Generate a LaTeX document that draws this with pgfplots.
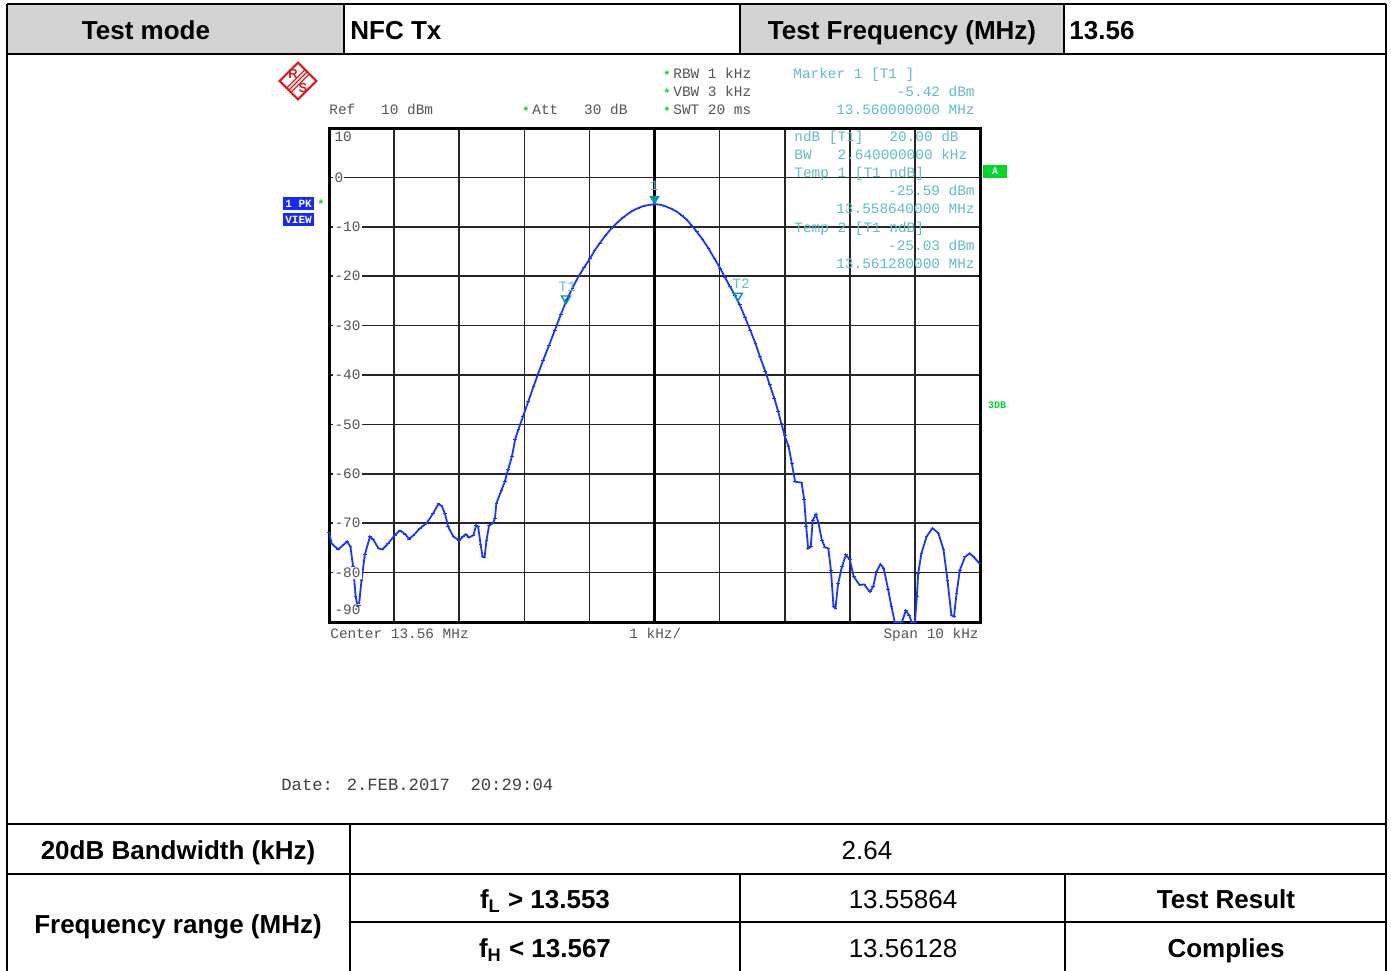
\documentclass[border=0pt]{standalone}
\usepackage{pgfplots}
\pgfplotsset{compat=1.18}
\usepackage{fontspec}
\setmainfont{Liberation Sans}
\newfontfamily\mono{Liberation Mono}
\definecolor{cellgray}{RGB}{211,211,211}
\definecolor{trace}{RGB}{25,55,255}
\definecolor{mk}{RGB}{0,150,160}
\definecolor{mktext}{RGB}{95,190,200}
\definecolor{rsgray}{RGB}{85,85,85}
\definecolor{rsgreen}{RGB}{0,215,40}
\definecolor{rsblue}{RGB}{20,40,255}
\definecolor{rsred}{RGB}{215,30,30}
\newcommand{\tb}{\fontsize{13}{15}\selectfont\bfseries}
\newcommand{\tn}{\fontsize{13}{15}\selectfont}
\newcommand{\rs}{\mono\fontsize{7.2}{8}\selectfont}
\tikzset{lbl/.style={anchor=west, xshift=2pt, fill=white, inner sep=0.6pt, font=\rs, text=rsgray}}
\begin{document}
\begin{tikzpicture}
\useasboundingbox (0,0) rectangle (695.5pt,-485pt);
\fill[white] (0,0) rectangle (695.5pt,-485pt);
\begin{scope}[x=0.5pt,y=-0.5pt]
% table backgrounds
\fill[cellgray] (7,4) rectangle (344,54);
\fill[cellgray] (740,4) rectangle (1064,54);
% table lines
\begin{scope}[line width=1.2pt, black]
\draw (7,4) -- (1386,4);
\draw (7,54) -- (1386,54);
\draw (7,4) -- (7,975);
\draw (1386,4) -- (1386,975);
\draw (344,4) -- (344,54);
\draw (740,4) -- (740,54);
\draw (1064,4) -- (1064,54);
\draw (7,824) -- (1386,824);
\draw (7,874) -- (1386,874);
\draw (350,922) -- (1386,922);
\draw (350,824) -- (350,975);
\draw (740,874) -- (740,975);
\draw (1065,874) -- (1065,975);
\end{scope}
% table text (baseline = centre + 9px)
\begin{scope}[every node/.style={inner sep=0}]
\node[font=\tb, anchor=base] at (146,39) {Test mode};
\node[font=\tb, anchor=base west] at (350,39) {NFC Tx};
\node[font=\tb, anchor=base] at (902,39) {Test Frequency (MHz)};
\node[font=\tb, anchor=base west] at (1069,39) {13.56};
\node[font=\tb, anchor=base] at (178,859) {20dB Bandwidth (kHz)};
\node[font=\tn, anchor=base] at (867,859) {2.64};
\node[font=\tb, anchor=base] at (178,933) {Frequency range (MHz)};
\node[font=\tb, anchor=base] at (545,908) {f\textsubscript{L} > 13.553};
\node[font=\tn, anchor=base] at (903,908) {13.55864};
\node[font=\tb, anchor=base] at (1226,908) {Test Result};
\node[font=\tb, anchor=base] at (545,957) {f\textsubscript{H} < 13.567};
\node[font=\tn, anchor=base] at (903,957) {13.56128};
\node[font=\tb, anchor=base] at (1226,957) {Complies};
\end{scope}
\end{scope}

\begin{axis}[
  at={(164.5pt,-311pt)}, anchor=south west,
  width=325.5pt, height=247pt, scale only axis,
  xmin=-5, xmax=5, ymin=-90, ymax=10,
  xtick={-4,-3,-2,-1,1,2,3,4}, ytick={-80,-70,-60,-50,-40,-30,-20,-10,0},
  xticklabel=\empty, yticklabel=\empty,
  tick style={draw=none}, major tick length=0pt,
  grid=major, major grid style={black!85, line width=0.8pt},
  extra x ticks={0}, extra x tick labels={},
  extra x tick style={grid=major, major grid style={black, line width=1.6pt}},
  axis line style={line width=1.5pt, black},
]
\addplot[trace, line width=0.9pt, mark=-, mark size=0.9pt, mark options={line width=0.5pt}] coordinates {
(-5.00,-71.9) (-4.96,-74.1) (-4.86,-75.3) (-4.78,-74.4) (-4.72,-73.7) (-4.67,-74.8)
(-4.63,-78.8) (-4.59,-84.9) (-4.56,-86.8) (-4.54,-86.6) (-4.50,-81.5) (-4.45,-76.4)
(-4.37,-72.7) (-4.32,-73.3) (-4.24,-75.1) (-4.18,-75.3) (-4.09,-74.1) (-3.99,-72.4)
(-3.91,-71.5) (-3.83,-72.2) (-3.77,-73.2) (-3.70,-72.4) (-3.60,-71.0) (-3.50,-70.0)
(-3.40,-68.0) (-3.32,-66.1) (-3.27,-66.5) (-3.22,-68.0) (-3.17,-70.7) (-3.09,-72.7)
(-3.00,-73.5) (-2.94,-72.7) (-2.90,-72.2) (-2.85,-72.9) (-2.78,-72.4) (-2.74,-70.4)
(-2.71,-70.7) (-2.67,-74.4) (-2.64,-76.8) (-2.61,-76.9) (-2.58,-73.4) (-2.54,-70.4)
(-2.48,-70.0) (-2.45,-69.0) (-2.43,-66.0) (-2.35,-63.3) (-2.30,-61.6) (-2.25,-59.2)
(-2.19,-56.5) (-2.14,-53.0) (-2.09,-51.0) (-2.02,-48.4) (-1.94,-45.4) (-1.86,-42.4)
(-1.79,-39.8) (-1.71,-37.0) (-1.62,-34.0) (-1.53,-30.9) (-1.44,-27.8) (-1.35,-24.8)
(-1.26,-22.4) (-1.17,-20.1) (-1.08,-18.2) (-0.99,-16.4) (-0.92,-14.8) (-0.84,-13.3)
(-0.75,-11.7) (-0.66,-10.3) (-0.57,-9.1) (-0.48,-8.1) (-0.40,-7.3) (-0.33,-6.7)
(-0.25,-6.2) (-0.17,-5.8) (-0.08,-5.55) (0,-5.42) (0.08,-5.5) (0.16,-5.8)
(0.25,-6.3) (0.34,-6.9) (0.42,-7.7) (0.49,-8.5) (0.57,-9.7) (0.65,-11.0)
(0.74,-12.6) (0.83,-14.4) (0.92,-16.4) (1.01,-18.4) (1.08,-20.2) (1.16,-22.1)
(1.24,-24.0) (1.31,-25.8) (1.39,-28.3) (1.47,-30.9) (1.55,-33.6) (1.62,-36.3)
(1.70,-39.2) (1.77,-42.0) (1.84,-44.7) (1.90,-47.4) (1.95,-49.9) (2.00,-52.3)
(2.06,-54.5) (2.11,-57.9) (2.16,-61.6) (2.26,-61.8) (2.30,-65.3) (2.33,-70.7) (2.36,-75.1)
(2.40,-74.8) (2.43,-69.4) (2.48,-68.2) (2.52,-70.0) (2.57,-73.4) (2.62,-74.9)
(2.67,-75.1) (2.71,-79.5) (2.75,-86.9) (2.78,-87.2) (2.82,-82.2) (2.88,-78.8)
(2.94,-76.4) (3.00,-77.4) (3.06,-80.8) (3.15,-82.5) (3.22,-82.4) (3.31,-83.9)
(3.36,-82.8) (3.41,-79.8) (3.47,-78.3) (3.52,-79.1) (3.59,-83.5) (3.64,-86.9)
(3.69,-90) (3.80,-90) (3.86,-87.7) (3.91,-88.6) (3.95,-90) (4.00,-90)
(4.03,-84.9) (4.05,-80.2) (4.10,-76.1) (4.18,-72.7) (4.27,-71.0) (4.36,-72.0)
(4.44,-75.4) (4.50,-81.5) (4.56,-88.6) (4.60,-88.9) (4.64,-84.2) (4.69,-79.5)
(4.77,-76.8) (4.84,-76.1) (4.90,-76.8) (4.99,-78.1)
};
% marker 1 (filled) and temp markers (open)
\addplot[only marks, mark=triangle*, mark size=2.6pt, color=mk, mark options={yshift=2.6pt, rotate=180}] coordinates {(0,-5.42)};
\addplot[only marks, mark=triangle, mark size=2.6pt, color=mk, mark options={yshift=2.6pt, rotate=180, line width=0.7pt}] coordinates {(-1.36,-25.59) (1.28,-25.03)};
\node[font=\rs, text=mktext] at (axis cs:0,-1.7) {1};
\node[font=\rs, text=mktext] at (axis cs:-1.34,-22.2) {T1};
\node[font=\rs, text=mktext] at (axis cs:1.33,-21.6) {T2};
% y labels
\node[lbl] at (axis cs:-5,8.2) {10};
\node[lbl] at (axis cs:-5,0) {0};
\node[lbl] at (axis cs:-5,-10) {-10};
\node[lbl] at (axis cs:-5,-20) {-20};
\node[lbl] at (axis cs:-5,-30) {-30};
\node[lbl] at (axis cs:-5,-40) {-40};
\node[lbl] at (axis cs:-5,-50) {-50};
\node[lbl] at (axis cs:-5,-60) {-60};
\node[lbl] at (axis cs:-5,-70) {-70};
\node[lbl] at (axis cs:-5,-80) {-80};
\node[lbl] at (axis cs:-5,-87.6) {-90};
\end{axis}

\begin{scope}[x=0.5pt,y=-0.5pt]
% R&S logo
\begin{scope}[rotate around={45:(298,81)}]
\draw[rsred, line width=1pt] (285,68) rectangle (311,94);
\draw[rsred, line width=0.6pt] (285,78) -- (311,78) (285,81) -- (311,81) (285,84) -- (311,84);
\end{scope}
\node[text=rsred, font=\bfseries\fontsize{6.5}{7}\selectfont, inner sep=0] at (293,74) {R};
\node[text=rsred, font=\bfseries\fontsize{6.5}{7}\selectfont, inner sep=0] at (303,88) {S};
% header texts (baseline = centre + 4px)
\begin{scope}[every node/.style={font=\rs, text=rsgray, inner sep=0}]
\node[anchor=base west] at (329,114) {Ref~~~10~dBm};
\node[anchor=base west] at (532,114) {Att~~~30~dB};
\node[anchor=base west] at (673,78) {RBW 1 kHz};
\node[anchor=base west] at (673,96) {VBW 3 kHz};
\node[anchor=base west] at (673,114) {SWT 20 ms};
\node[anchor=base west] at (330,638) {Center 13.56 MHz};
\node[anchor=base west] at (629,638) {1 kHz/};
\node[anchor=base east] at (979,638) {Span 10 kHz};
\node[anchor=base west, font=\mono\fontsize{8.6}{10}\selectfont, text=black!75] at (281,790) {Date: 2.FEB.2017~~20:29:04};
\end{scope}
\begin{scope}[every node/.style={font=\bfseries\mono\fontsize{6}{6}\selectfont, text=rsgreen, inner sep=0}]
\node at (526,111) {*};
\node at (667,75) {*};
\node at (667,93) {*};
\node at (667,111) {*};
\node at (321,204) {*};
\end{scope}
\begin{scope}[every node/.style={font=\rs, text=mktext, inner sep=0}]
\node[anchor=base west] at (793,78) {Marker 1 [T1 ]};
\node[anchor=base east] at (975,96) {-5.42 dBm};
\node[anchor=base east] at (975,114) {13.560000000 MHz};
\node[anchor=base west] at (794,141) {ndB [T1]~~~20.00 dB};
\node[anchor=base west] at (794,159) {BW~~~2.640000000 kHz};
\node[anchor=base west] at (794,177) {Temp 1 [T1 ndB]};
\node[anchor=base east] at (975,195) {-25.59 dBm};
\node[anchor=base east] at (975,213) {13.558640000 MHz};
\node[anchor=base west] at (794,232) {Temp 2 [T1 ndB]};
\node[anchor=base east] at (975,250) {-25.03 dBm};
\node[anchor=base east] at (975,268) {13.561280000 MHz};
\end{scope}
% side boxes
\fill[rsgreen] (983,165) rectangle (1007,178);
\node[font=\bfseries\mono\fontsize{5}{5}\selectfont, text=white, inner sep=0] at (995,171.5) {A};
\node[font=\bfseries\mono\fontsize{5}{5}\selectfont, text=rsgreen, inner sep=0] at (997,405) {3DB};
\fill[rsblue] (283,197) rectangle (314,210);
\fill[rsblue] (283,213) rectangle (314,226);
\node[font=\bfseries\mono\fontsize{5.5}{6}\selectfont, text=white, inner sep=0] at (298.5,203.5) {1 PK};
\node[font=\bfseries\mono\fontsize{5.5}{6}\selectfont, text=white, inner sep=0] at (298.5,219.5) {VIEW};
\end{scope}
\end{tikzpicture}
\end{document}
